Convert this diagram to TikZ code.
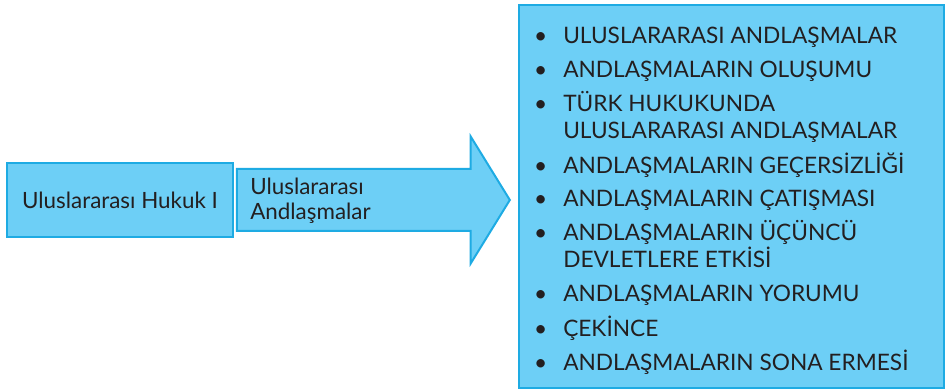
\documentclass[tikz,border=0pt]{standalone}
\usepackage{fontspec}
\setmainfont{Lato}
\usepackage{xcolor}
\usetikzlibrary{positioning, shapes.arrows}
\definecolor{boxfill}{HTML}{6DCFF6}
\definecolor{boxline}{HTML}{1EABE3}
\definecolor{textgray}{HTML}{231F20}
\tikzset{
  box/.style={rectangle, draw=boxline, fill=boxfill, line width=1.5pt, text=textgray, align=center, font=\fontsize{16.8}{19}\selectfont},
  bigarrow/.style={single arrow, draw=boxline, fill=boxfill, line width=1.5pt, single arrow head extend=24.5pt, single arrow tip angle=116.7, inner xsep=0pt, inner ysep=22.5pt, minimum height=204.75pt},
  listitem/.style={anchor=base west, align=left, inner sep=0pt, text=textgray, font=\fontsize{17}{20}\selectfont},
}

\begin{document}
\begin{tikzpicture}[x=0.75pt, y=-0.75pt]
  \useasboundingbox (0,0) rectangle (948,391);

  \node[box, minimum width=169.5pt, minimum height=55.5pt] (hukuk) at (120,200) {Uluslararası Hukuk I};

  \node[bigarrow, anchor=tip] (andlasma) at (511,200) {};
  \node[anchor=west, align=left, inner sep=0pt, text=textgray, font=\fontsize{16.8}{19}\selectfont] (andlasmatext) at (250,201) {Uluslararası\\Andlaşmalar};

  \node[box, minimum width=318.75pt, minimum height=287.25pt] (konular) at (731.5,196.5) {};

  % konu listesi (iki satirlik maddelerde son satirin tabani)
  \node[listitem] (k1) at (563,44) {\llap{\textbullet\hspace{12pt}}ULUSLARARASI ANDLAŞMALAR};
  \node[listitem] (k2) at (563,78) {\llap{\textbullet\hspace{12pt}}ANDLAŞMALARIN OLUŞUMU};
  \node[listitem] (k3) at (563,138.3) {\llap{\textbullet\hspace{12pt}}TÜRK HUKUKUNDA\\ULUSLARARASI ANDLAŞMALAR};
  \node[listitem] (k4) at (563,173.3) {\llap{\textbullet\hspace{12pt}}ANDLAŞMALARIN GEÇERSİZLİĞİ};
  \node[listitem] (k5) at (563,206.7) {\llap{\textbullet\hspace{12pt}}ANDLAŞMALARIN ÇATIŞMASI};
  \node[listitem] (k6) at (563,267.3) {\llap{\textbullet\hspace{12pt}}ANDLAŞMALARIN ÜÇÜNCÜ\\DEVLETLERE ETKİSİ};
  \node[listitem] (k7) at (563,301) {\llap{\textbullet\hspace{12pt}}ANDLAŞMALARIN YORUMU};
  \node[listitem] (k8) at (563,336.7) {\llap{\textbullet\hspace{12pt}}ÇEKİNCE};
  \node[listitem] (k9) at (563,370) {\llap{\textbullet\hspace{12pt}}ANDLAŞMALARIN SONA ERMESİ};
\end{tikzpicture}
\end{document}
